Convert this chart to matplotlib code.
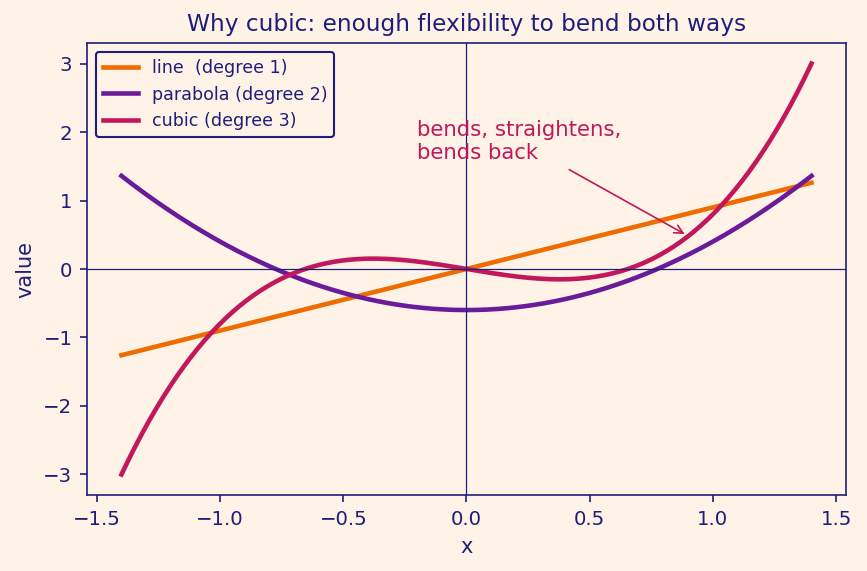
import numpy as np
import matplotlib.pyplot as plt

# polynomial coefficients (highest power first)
line_coef = [0.9, 0.0]
parabola_coef = [1.0, 0.0, -0.6]
cubic_coef = [1.4, 0.0, -0.6, 0.0]
x_range = [-1.4, 1.4]

labels = ['line  (degree 1)', 'parabola (degree 2)', 'cubic (degree 3)']
colors = ['#ef6c00', '#6a1b9a', '#c2185b']

navy = '#1f1f7a'
bg = '#fff3e8'

plt.rcParams['font.family'] = 'DejaVu Sans'
fig, ax = plt.subplots(figsize=(5.78, 3.807), dpi=150)
fig.patch.set_facecolor(bg)
ax.set_facecolor(bg)

x = np.linspace(x_range[0], x_range[1], 300)
for coef, lab, col in zip([line_coef, parabola_coef, cubic_coef], labels, colors):
    ax.plot(x, np.polyval(coef, x), color=col, linewidth=2.2, label=lab)

ax.axhline(0, color=navy, linewidth=0.6)
ax.axvline(0, color=navy, linewidth=0.6)

# annotation on the cubic
x_arrow = 0.9
ax.annotate('bends, straightens,\nbends back',
            xy=(x_arrow, np.polyval(cubic_coef, x_arrow)),
            xytext=(-0.2, 1.6), color='#c2185b', fontsize=10.2,
            arrowprops=dict(arrowstyle='->', color='#c2185b', lw=0.8))

ax.set_title('Why cubic: enough flexibility to bend both ways', color=navy, fontsize=11.2)
ax.set_xlabel('x', color=navy, fontsize=10)
ax.set_ylabel('value', color=navy, fontsize=10)
ax.tick_params(colors=navy, labelsize=9.5)
for s in ax.spines.values():
    s.set_color(navy)

leg = ax.legend(loc='upper left', fontsize=8.4, facecolor=bg, edgecolor=navy,
                framealpha=1, labelcolor=navy)

fig.subplots_adjust(left=0.1003, right=0.9758, top=0.9247, bottom=0.1331)
plt.savefig('out.png', facecolor=bg)
